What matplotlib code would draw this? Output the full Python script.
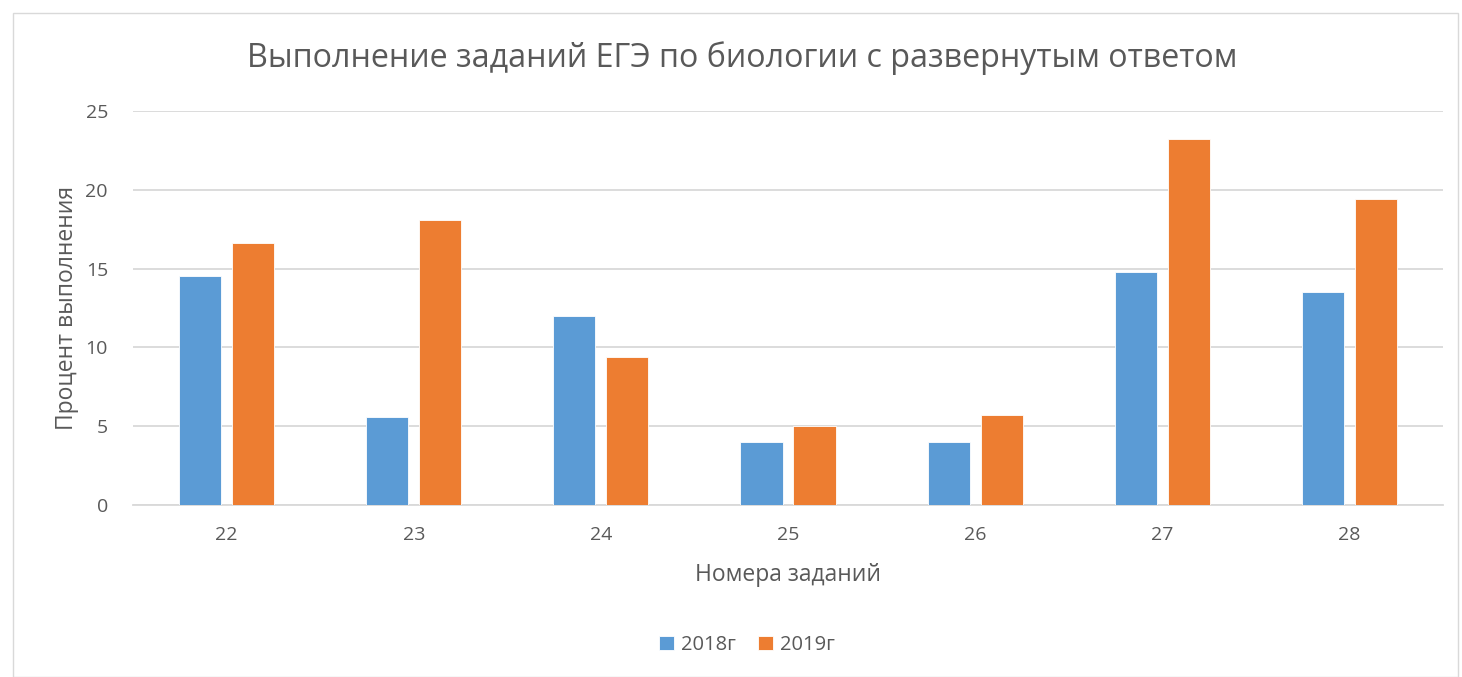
import matplotlib
matplotlib.use("Agg")
import matplotlib.pyplot as plt
import numpy as np
from matplotlib.patches import Rectangle

categories = ["22", "23", "24", "25", "26", "27", "28"]
series_2018 = [14.5, 5.6, 12.0, 4.0, 4.0, 14.8, 13.5]
series_2019 = [16.6, 18.1, 9.4, 5.0, 5.7, 23.2, 19.4]
series_names = ["2018г", "2019г"]
yticks = [0, 5, 10, 15, 20, 25]

plt.rcParams['font.family'] = ['Open Sans', 'DejaVu Sans']
W, H = 1462, 677
fig = plt.figure(figsize=(W/100, H/100), dpi=100)
fig.patch.set_facecolor('white')
fig.patches.append(Rectangle((13/W, 0), (W-13-4)/W, (H-13)/H, transform=fig.transFigure,
                             fill=False, edgecolor='#d9d9d9', linewidth=1))

x0, x1 = 133, 1443
y0, y1 = 505, 111
ax = fig.add_axes([x0/W, 1-y0/H, (x1-x0)/W, (y0-y1)/H])
x = np.arange(len(categories))
bw = 0.225
off = 0.1417
blue = '#5b9bd5'
orange = '#ed7d31'
ax.bar(x - off, series_2018, bw, color=blue, edgecolor='white', linewidth=0.6, label=series_names[0], zorder=3)
ax.bar(x + off, series_2019, bw, color=orange, edgecolor='white', linewidth=0.6, label=series_names[1], zorder=3)
ax.set_xlim(-0.5, len(categories)-0.5)
ax.set_ylim(0, 25)
ax.set_yticks(yticks)
ax.set_xticks(x)
ax.set_xticklabels(categories)
ax.grid(axis='y', color='#d9d9d9', linewidth=1.3, zorder=0)
for s in ['top', 'right', 'left']:
    ax.spines[s].set_visible(False)
ax.spines['bottom'].set_color('#d9d9d9')
ax.spines['bottom'].set_linewidth(1.3)
ax.tick_params(axis='both', length=0, labelsize=14, colors='#595959')
ax.tick_params(axis='y', pad=18)
ax.tick_params(axis='x', pad=15)
ax.set_xlabel("Номера заданий", fontsize=16.5, color='#595959', labelpad=14)
ax.set_ylabel("Процент выполнения", fontsize=16.5, color='#595959', labelpad=5)
fig.text(742/W, 1-58/H, "Выполнение заданий ЕГЭ по биологии с развернутым ответом",
         ha='center', va='center', fontsize=23.2, color='#595959')
leg = fig.legend(loc='center', bbox_to_anchor=(747/W, 1-645/H), ncol=2, frameon=False,
                 fontsize=14.5, handlelength=0.75, handleheight=0.75, handletextpad=0.35,
                 columnspacing=1.1, labelcolor='#595959')
fig.savefig("out.png", dpi=100, facecolor='white')
